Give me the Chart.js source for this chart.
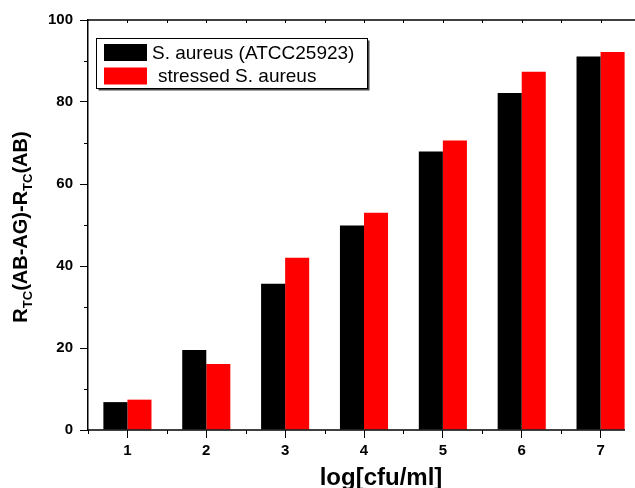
<!DOCTYPE html>
<html>
<head>
<meta charset="utf-8">
<script src="https://cdn.jsdelivr.net/npm/chart.js@4/dist/chart.umd.min.js"></script>
<style>
  html, body { margin: 0; padding: 0; background: #fff; overflow: hidden; }
  #wrap { width: 645px; height: 488px; }
</style>
</head>
<body>
<div id="wrap"><canvas id="bars" width="645" height="488"></canvas></div>
<script>
// data
const categories = ['1', '2', '3', '4', '5', '6', '7'];
const seriesNames = ['S. aureus (ATCC25923)', 'stressed S. aureus'];
const aureus = [6.8, 19.5, 35.7, 49.9, 67.9, 82.2, 91.1];
const stressed = [7.4, 16.1, 42.0, 53.0, 70.6, 87.4, 92.2];
const yTicks = [0, 20, 40, 60, 80, 100];

const FONT = '"Liberation Sans", Arial, sans-serif';

// minor ticks, top axis, axis titles and legend
const decorations = {
  id: 'decorations',
  afterDraw(chart) {
    const ctx = chart.ctx;
    const area = chart.chartArea;
    const y = chart.scales.y;
    const catW = (area.right - area.left) / categories.length;

    ctx.save();
    ctx.strokeStyle = '#000';
    ctx.lineWidth = 1.5;

    // top frame and bottom axis line
    ctx.beginPath();
    ctx.moveTo(area.left, area.top);
    ctx.lineTo(area.right, area.top);
    ctx.stroke();
    ctx.beginPath();
    ctx.moveTo(area.left, area.bottom);
    ctx.lineTo(625, area.bottom);
    ctx.stroke();

    ctx.lineWidth = 1;
    ctx.beginPath();
    // y minor ticks (outward)
    for (let v = 10; v < 100; v += 20) {
      const py = Math.round(y.getPixelForValue(v)) + 0.5;
      ctx.moveTo(area.left - 4, py);
      ctx.lineTo(area.left, py);
    }
    // x minor ticks at category edges (outward)
    for (let i = 0; i < categories.length; i++) {
      const px = Math.round(area.left + i * catW) + 0.5;
      ctx.moveTo(px, area.bottom);
      ctx.lineTo(px, area.bottom + 4);
    }
    // top ticks every half category (inward)
    for (let i = 1; i < categories.length * 2; i++) {
      const px = Math.round(area.left + i * catW / 2) + 0.5;
      ctx.moveTo(px, area.top);
      ctx.lineTo(px, area.top + 3);
    }
    ctx.stroke();

    // x title
    ctx.fillStyle = '#000';
    ctx.font = 'bold 24px ' + FONT;
    ctx.textAlign = 'center';
    ctx.textBaseline = 'middle';
    ctx.fillText('log[cfu/ml]', 381, 478);

    // y title with subscripts
    const parts = [
      ['R', false], ['TC', true], ['(AB-AG)-R', false], ['TC', true], ['(AB)', false]
    ];
    const mainFont = 'bold 20px ' + FONT;
    const subFont = 'bold 13px ' + FONT;
    let total = 0;
    parts.forEach(p => {
      ctx.font = p[1] ? subFont : mainFont;
      total += ctx.measureText(p[0]).width;
    });
    ctx.translate(27, 227);
    ctx.rotate(-Math.PI / 2);
    ctx.textAlign = 'left';
    ctx.textBaseline = 'alphabetic';
    let cx = -total / 2;
    parts.forEach(p => {
      ctx.font = p[1] ? subFont : mainFont;
      ctx.fillText(p[0], cx, p[1] ? 5 : 0);
      cx += ctx.measureText(p[0]).width;
    });
    ctx.restore();

    // legend box with shadow
    ctx.save();
    const bx = 96.5, by = 38.5, bw = 271, bh = 50;
    ctx.fillStyle = '#444';
    ctx.fillRect(bx + 2, by + 2, bw, bh);
    ctx.fillStyle = '#fff';
    ctx.fillRect(bx, by, bw, bh);
    ctx.strokeStyle = '#000';
    ctx.lineWidth = 1;
    ctx.strokeRect(bx, by, bw, bh);
    ctx.font = '19px ' + FONT;
    ctx.textBaseline = 'middle';
    ctx.textAlign = 'left';
    chart.data.datasets.forEach((ds, i) => {
      const rowY = 44 + i * 23.5;
      ctx.fillStyle = ds.backgroundColor;
      ctx.fillRect(104, rowY, 43, 17);
      ctx.fillStyle = '#000';
      ctx.fillText(ds.label, i === 0 ? 152 : 158, rowY + 9.5);
    });
    ctx.restore();
  }
};

new Chart(document.getElementById('bars'), {
  type: 'bar',
  data: {
    labels: categories,
    datasets: [
      { label: seriesNames[0], data: aureus, backgroundColor: '#000000', borderWidth: 0 },
      { label: seriesNames[1], data: stressed, backgroundColor: '#ff0000', borderWidth: 0 }
    ]
  },
  options: {
    responsive: false,
    animation: false,
    layout: { padding: { top: 20, right: 5, left: 0, bottom: 0 } },
    datasets: { bar: { categoryPercentage: 0.61, barPercentage: 1.0 } },
    plugins: { legend: { display: false }, tooltip: { enabled: false } },
    scales: {
      x: {
        offset: true,
        grid: { offset: false, drawOnChartArea: false, tickLength: 8, tickColor: '#000', tickWidth: 1 },
        border: { display: false },
        ticks: { color: '#000', font: { family: FONT, size: 15, weight: 'bold' }, padding: 4, maxRotation: 0 },
        afterFit(scale) { scale.height = 58; }
      },
      y: {
        min: 0,
        max: 100,
        afterBuildTicks(scale) { scale.ticks = yTicks.map(v => ({ value: v })); },
        grid: { drawOnChartArea: false, tickLength: 8, tickColor: '#000', tickWidth: 1 },
        border: { color: '#000', width: 1.5 },
        ticks: { color: '#000', font: { family: FONT, size: 15, weight: 'bold' }, padding: 7 },
        afterFit(scale) { scale.width = 88; }
      }
    }
  },
  plugins: [decorations]
});
</script>
</body>
</html>
